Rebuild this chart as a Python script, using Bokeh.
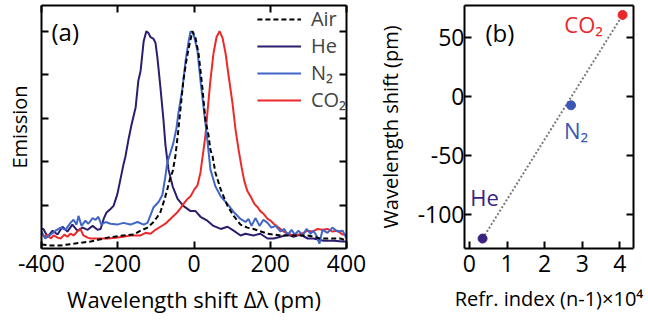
from bokeh.plotting import figure
from bokeh.models import LinearAxis, Legend, LegendItem, Label, FixedTicker
from bokeh.layouts import row
from bokeh.embed import file_html
from bokeh.resources import INLINE
from bokeh.core.properties import value

FONT = "Open Sans"

# ---------------- Panel (a): emission spectra ----------------
he_x = [-400, -395, -384, -371, -358, -345, -332, -319, -306, -292, -279, -266, -253, -245,
        -237, -230, -219, -211, -201, -193, -185, -180, -172, -164, -153, -146, -140, -132,
        -125, -119, -114, -106, -101, -96, -88, -80, -75, -67, -56, -43, -28, -9, 4, 17, 35,
        51, 70, 88, 104, 122, 135, 156, 174, 193, 209, 227, 245, 261, 279, 298, 313, 340,
        366, 390, 400]
he_y = [0.45, 0.45, 0.27, 0.41, 0.32, 0.50, 0.39, 0.55, 0.41, 0.48, 0.43, 0.52, 0.43, 0.45,
        0.68, 0.82, 0.91, 0.98, 1.25, 1.59, 1.93, 2.11, 2.50, 2.84, 3.25, 3.86, 4.09, 4.77,
        5.00, 4.95, 4.86, 4.82, 4.73, 4.39, 3.70, 2.95, 2.39, 1.82, 1.43, 1.14, 0.98, 0.86,
        0.86, 0.73, 0.64, 0.52, 0.45, 0.50, 0.41, 0.30, 0.34, 0.30, 0.34, 0.23, 0.23, 0.27,
        0.32, 0.27, 0.32, 0.23, 0.23, 0.18, 0.18, 0.16, 0.16]

n2_x = [-400, -390, -376, -363, -350, -337, -324, -316, -308, -303, -295, -285, -277, -266,
        -258, -251, -243, -232, -219, -201, -185, -167, -148, -132, -122, -114, -106, -93,
        -83, -75, -70, -62, -54, -46, -41, -30, -22, -14, -9, -1, 9, 17, 25, 35, 43, 56, 70,
        88, 104, 122, 135, 143, 151, 161, 172, 182, 193, 203, 214, 227, 237, 245, 256, 264,
        274, 285, 295, 306, 313, 321, 329, 337, 350, 363, 376, 390, 400]
n2_y = [0.39, 0.23, 0.32, 0.41, 0.48, 0.43, 0.59, 0.66, 0.55, 0.75, 0.52, 0.64, 0.57, 0.70,
        0.66, 0.73, 0.55, 0.61, 0.57, 0.55, 0.59, 0.55, 0.61, 0.55, 0.59, 0.77, 0.95, 1.07,
        1.23, 1.66, 1.98, 2.20, 2.43, 2.77, 3.11, 3.70, 4.32, 4.77, 5.00, 4.93, 4.55, 3.86,
        3.25, 2.50, 1.82, 1.43, 1.20, 1.02, 0.84, 0.68, 0.61, 0.68, 0.52, 0.70, 0.52, 0.66,
        0.59, 0.48, 0.52, 0.39, 0.45, 0.30, 0.43, 0.32, 0.41, 0.30, 0.45, 0.34, 0.41, 0.30,
        0.11, 0.43, 0.36, 0.48, 0.39, 0.41, 0.23]

air_x = [-400, -376, -350, -316, -271, -227, -185, -159, -140, -122, -106, -96, -88, -77,
         -70, -62, -56, -49, -41, -35, -28, -20, -14, -4, 4, 12, 22, 30, 38, 43, 49, 56, 70,
         88, 104, 122, 140, 156, 193, 227, 261, 298, 332, 358, 384, 400]
air_y = [0.09, 0.07, 0.07, 0.11, 0.16, 0.25, 0.30, 0.32, 0.41, 0.48, 0.61, 0.73, 0.84, 1.14,
         1.36, 1.64, 1.77, 2.11, 2.73, 3.25, 3.86, 4.32, 4.61, 5.00, 4.84, 4.48, 3.70, 2.95,
         2.61, 2.27, 2.11, 1.75, 1.36, 0.98, 0.75, 0.55, 0.48, 0.45, 0.34, 0.30, 0.30, 0.30,
         0.23, 0.23, 0.23, 0.18]

co2_x = [-400, -392, -384, -376, -368, -358, -350, -340, -332, -324, -316, -306, -298, -290,
         -279, -271, -245, -227, -206, -185, -167, -140, -127, -114, -101, -88, -75, -62, -51,
         -43, -35, -28, -17, -9, 1, 9, 17, 25, 30, 35, 43, 51, 59, 67, 75, 83, 90, 101, 109,
         117, 125, 132, 140, 148, 159, 167, 174, 182, 193, 201, 209, 222, 235, 248, 261, 274,
         287, 298, 311, 324, 337, 350, 363, 376, 390, 400]
co2_y = [0.34, 0.27, 0.32, 0.23, 0.30, 0.25, 0.23, 0.32, 0.27, 0.34, 0.30, 0.39, 0.45, 0.30,
         0.25, 0.23, 0.23, 0.23, 0.25, 0.27, 0.30, 0.30, 0.36, 0.34, 0.43, 0.50, 0.57, 0.68,
         0.77, 0.84, 0.93, 1.02, 1.14, 1.20, 1.36, 1.45, 1.75, 2.27, 2.61, 3.11, 3.86, 4.48,
         4.86, 5.00, 4.84, 4.48, 4.02, 3.34, 2.73, 2.27, 1.86, 1.55, 1.32, 1.20, 1.02, 0.95,
         0.86, 0.80, 0.68, 0.64, 0.57, 0.48, 0.39, 0.34, 0.30, 0.32, 0.36, 0.41, 0.39, 0.45,
         0.43, 0.45, 0.39, 0.41, 0.32, 0.32]

x_range_a = (-400, 400)
y_range_a = (0, 5.59)
x_ticks_a = [-400, -200, 0, 200, 400]
y_ticks_a = [1, 2, 3, 4, 5]

# ---------------- Panel (b): shift vs refractive index ----------------
gases = ["He", "N₂", "CO₂"]
refr_index = [0.35, 2.70, 4.07]       # (n-1) x 1e4
shift_pm = [-120.6, -7.6, 69.0]
x_range_b = (-0.13, 4.36)
y_range_b = (-129, 77)
x_ticks_b = [0, 1, 2, 3, 4]
y_ticks_b = [-100, -50, 0, 50]

C_HE = "#2d1d6e"
C_N2 = "#4167c6"
C_CO2 = "#ec2a2a"
C_AIR = "#000000"
pt_colors = ["#3a2380", "#3c57b5", "#e8262b"]


def style_axis(ax, ticker, show_labels=True, ticks=True):
    ax.ticker = FixedTicker(ticks=ticker)
    ax.axis_line_width = 2
    ax.axis_line_color = "black"
    ax.major_tick_line_width = 2
    ax.major_tick_line_color = "black" if ticks else None
    ax.major_tick_in = 7
    ax.major_tick_out = 0
    ax.minor_tick_line_color = None
    ax.major_label_text_font = FONT
    ax.major_label_text_color = "black"
    ax.axis_label_text_font = FONT
    ax.axis_label_text_font_style = "normal"
    ax.axis_label_text_color = "black"
    if show_labels:
        ax.major_label_text_font_size = "23px"
        ax.major_label_overrides = {t: str(t) for t in ticker}
    else:
        ax.major_label_text_font_size = "1px"
        ax.major_label_overrides = {t: "" for t in ticker}
        ax.major_label_standoff = 0


pa = figure(width=372, height=320, x_range=x_range_a, y_range=y_range_a, title=None,
            min_border_left=41, min_border_right=26, min_border_top=4, min_border_bottom=70,
            output_backend="svg", toolbar_location=None)
pa.grid.visible = False
pa.outline_line_color = None

style_axis(pa.xaxis[0], x_ticks_a)
pa.xaxis[0].axis_label = "Wavelength shift Δλ (pm)"
pa.xaxis[0].axis_label_text_font_size = "22px"
pa.xaxis[0].major_label_standoff = 6
pa.xaxis[0].axis_label_standoff = 9

style_axis(pa.yaxis[0], y_ticks_a, show_labels=False)
pa.yaxis[0].axis_label = "Emission"
pa.yaxis[0].axis_label_text_font_size = "20px"
pa.yaxis[0].axis_label_standoff = 9

top_a = LinearAxis()
style_axis(top_a, x_ticks_a, show_labels=False)
pa.add_layout(top_a, "above")
right_a = LinearAxis()
style_axis(right_a, y_ticks_a, show_labels=False)
pa.add_layout(right_a, "right")

r_he = pa.line(he_x, he_y, line_color=C_HE, line_width=2)
r_co2 = pa.line(co2_x, co2_y, line_color=C_CO2, line_width=2)
r_n2 = pa.line(n2_x, n2_y, line_color=C_N2, line_width=2)
r_air = pa.line(air_x, air_y, line_color=C_AIR, line_width=2, line_dash="5 3")

legend = Legend(items=[
    LegendItem(label="Air", renderers=[r_air]),
    LegendItem(label="He", renderers=[r_he]),
    LegendItem(label="N₂", renderers=[r_n2]),
    LegendItem(label="CO₂", renderers=[r_co2]),
], location="top_right", border_line_color=None, background_fill_alpha=0,
    label_text_font=FONT, label_text_font_size="20px", glyph_width=44, glyph_height=20,
    label_height=20, spacing=0, padding=10, margin=0, label_standoff=10)
pa.add_layout(legend)

pa.add_layout(Label(x=x_ticks_a[0], y=y_ticks_a[-1], text="(a)", x_offset=10,
                    text_font=FONT, text_font_size="24px", text_baseline="middle",
                    text_color="black"))

# ---------------- Panel (b) ----------------
pb = figure(width=276, height=320, x_range=x_range_b, y_range=y_range_b, title=None,
            min_border_left=92, min_border_right=15, min_border_top=5, min_border_bottom=72,
            output_backend="svg", toolbar_location=None)
pb.grid.visible = False
pb.outline_line_color = None

style_axis(pb.xaxis[0], x_ticks_b)
pb.xaxis[0].axis_label = "Refr. index (n-1)×10⁴"
pb.xaxis[0].axis_label_text_font_size = "20px"
pb.xaxis[0].major_label_standoff = 6
pb.xaxis[0].axis_label_standoff = 10

style_axis(pb.yaxis[0], y_ticks_b)
pb.yaxis[0].axis_label = "Wavelength shift (pm)"
pb.yaxis[0].axis_label_text_font_size = "20px"
pb.yaxis[0].major_label_standoff = 0
pb.yaxis[0].axis_label_standoff = 11

top_b = LinearAxis()
style_axis(top_b, x_ticks_b, show_labels=False, ticks=False)
pb.add_layout(top_b, "above")
right_b = LinearAxis()
style_axis(right_b, y_ticks_b, show_labels=False)
pb.add_layout(right_b, "right")

pb.line([refr_index[0], refr_index[-1]], [shift_pm[0], shift_pm[-1]],
        line_color="#7a7a7a", line_width=2, line_dash="2 2")
pb.scatter(refr_index, shift_pm, size=9, color=pt_colors)
pb.text(x=refr_index, y=shift_pm, text=gases, text_color=pt_colors,
        x_offset=[2, 5, -39], y_offset=[-42, 25, 9],
        text_font=value(FONT), text_font_size="22px",
        text_align="center", text_baseline="middle")

pb.add_layout(Label(x=x_ticks_b[0], y=y_ticks_b[-1], text="(b)", x_offset=16, y_offset=5,
                    text_font=FONT, text_font_size="24px", text_baseline="middle",
                    text_color="black"))

layout = row(pa, pb)
open("out.html", "w").write(file_html(layout, INLINE))
